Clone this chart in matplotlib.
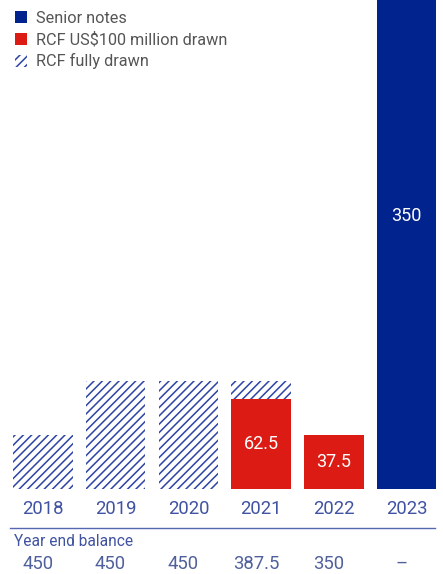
import matplotlib.pyplot as plt
from matplotlib.patches import Patch

years = ["2018", "2019", "2020", "2021", "2022", "2023"]
senior_notes = [0, 0, 0, 0, 0, 350]
rcf_100m = [0, 0, 0, 62.5, 37.5, 0]
rcf_full = [37.5, 75, 75, 12.5, 0, 0]
balance = ["450", "450", "450", "387.5", "350", "–"]
bar_labels = {3: "62.5", 4: "37.5", 5: "350"}

blue = "#00238e"
red = "#dc1c14"
txt_blue = "#4052a2"

plt.rcParams['font.family'] = ['Roboto', 'DejaVu Sans']
plt.rcParams['hatch.linewidth'] = 1.1
plt.rcParams['hatch.color'] = "#2d44a5"

fig = plt.figure(figsize=(4.43, 5.74), dpi=100)
ax = fig.add_axes([0, 85/574, 1, 489/574])

x = list(range(len(years)))
w = 0.82
ax.bar(x, senior_notes, w, color=blue, linewidth=0)
ax.bar(x, rcf_100m, w, color=red, linewidth=0)
ax.bar(x, rcf_full, w, bottom=rcf_100m, color="white", hatch="////",
       edgecolor="#2d44a5", linewidth=0)

for i, t in bar_labels.items():
    ypos = 190 if i == 5 else rcf_100m[i] / 2
    ax.text(i, ypos, t, color="white", ha="center", va="center", fontsize=13)

ax.set_xlim(-0.59, 5.5)
ax.set_ylim(0, 340)
ax.axis("off")

# year labels, rule and balance row
for i, y in enumerate(years):
    xf = ax.transData.transform((i, 0))[0] / fig.dpi / 4.43
    fig.text(xf, 1 - 509/574, y, color=txt_blue, ha="center", va="center", fontsize=13.3)
    fig.text(xf - 0.012, 1 - 564/574, balance[i], color="#50609c", ha="center",
             va="center", fontsize=13.3)
fig.add_artist(plt.Line2D([10/443, 435/443], [1 - 528/574, 1 - 528/574],
                          color="#5567b0", lw=1))
fig.text(14/443, 1 - 541/574, "Year end balance", color=txt_blue, ha="left",
         va="center", fontsize=11.2)

handles = [Patch(facecolor=blue, edgecolor="none", label="Senior notes"),
           Patch(facecolor=red, edgecolor="none", label="RCF US$100 million drawn"),
           Patch(facecolor="white", edgecolor="#2d44a5", hatch="////", linewidth=0,
                 label="RCF fully drawn")]
leg = fig.legend(handles=handles, loc="upper left", bbox_to_anchor=(0.01, 1.0),
                 frameon=False, fontsize=11.7, handlelength=0.75, handleheight=0.75,
                 handletextpad=0.55, labelspacing=0.38, borderaxespad=0.25)
for t in leg.get_texts():
    t.set_color("#555555")

fig.savefig("out.png", dpi=100)
